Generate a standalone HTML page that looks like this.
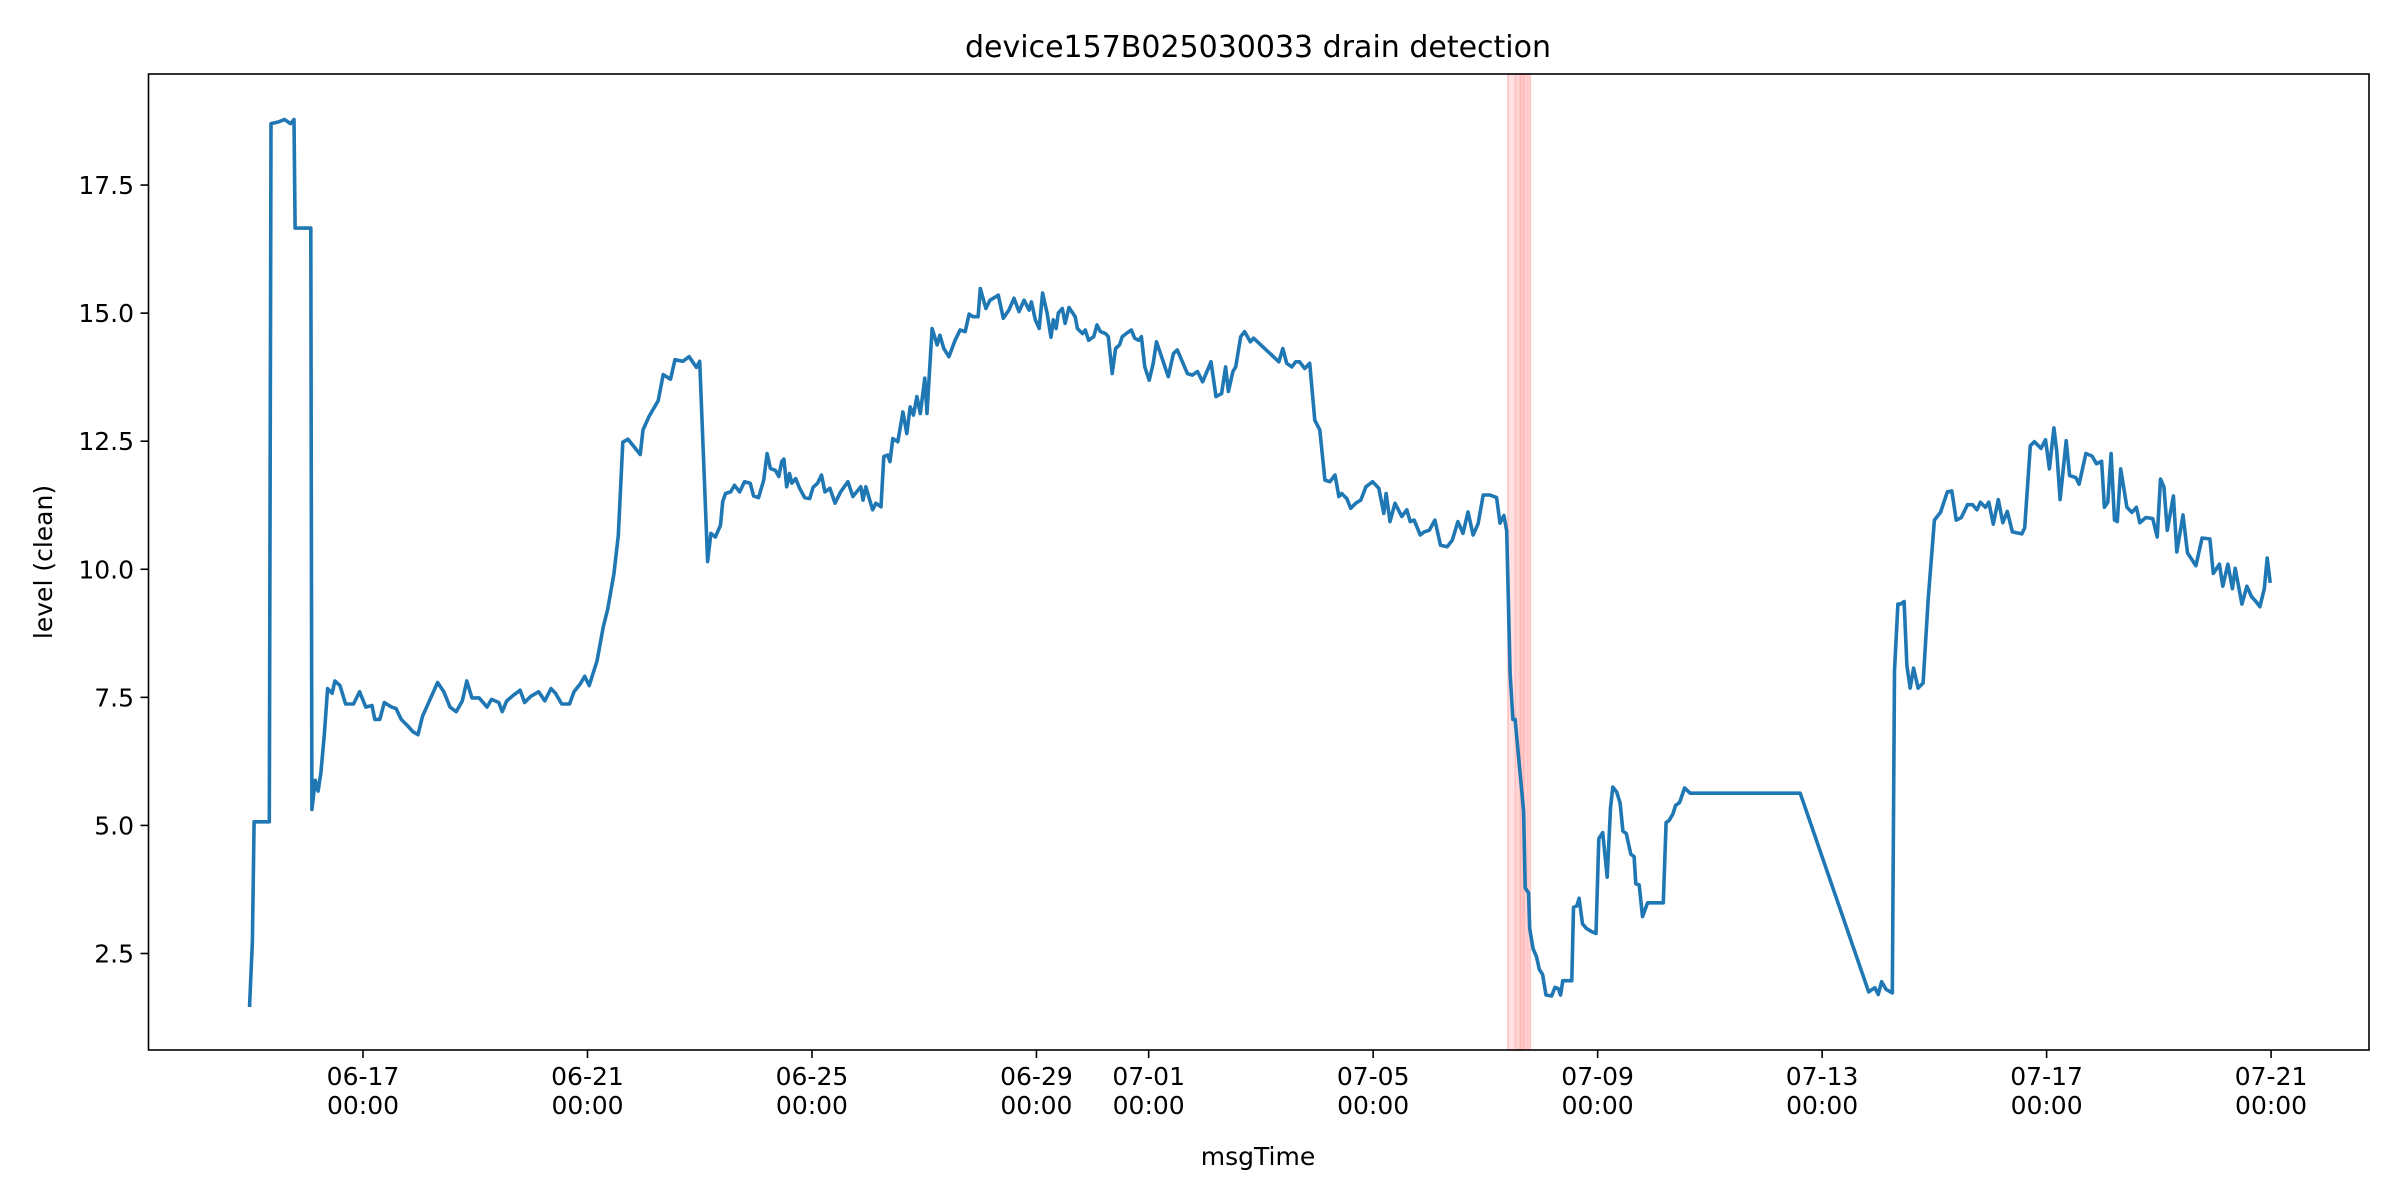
<!DOCTYPE html>
<html><head><meta charset="utf-8"><style>
html,body{margin:0;padding:0;background:#fff;}
svg{display:block;font-family:"DejaVu Sans","Liberation Sans",sans-serif;}
</style></head><body>
<svg id="chart" width="2400" height="1200" viewBox="0 0 2400 1200" xmlns="http://www.w3.org/2000/svg">
<rect x="0" y="0" width="2400" height="1200" fill="#fff"/>
<text x="1258" y="57" font-size="30" text-anchor="middle" fill="#000">device157B025030033 drain detection</text>
<g id="spans"></g>
<g id="series"></g>
<g id="axes"></g>
<text x="1258" y="1165" font-size="25" text-anchor="middle" fill="#000">msgTime</text>
<text transform="translate(52,562) rotate(-90)" font-size="25" text-anchor="middle" fill="#000">level (clean)</text>
</svg>
<script>
// days since 06-17 00:00
const days = [-2.02,-1.97,-1.94,-1.67,-1.64,-1.51,-1.40,-1.29,-1.23,-1.21,-0.93,-0.91,-0.85,-0.80,-0.75,-0.69,-0.63,-0.55,-0.50,-0.41,-0.31,-0.17,-0.06,0.05,0.16,0.21,0.30,0.38,0.51,0.59,0.68,0.79,0.89,0.98,1.06,1.33,1.44,1.55,1.66,1.77,1.85,1.94,2.07,2.21,2.29,2.42,2.48,2.56,2.69,2.80,2.88,2.99,3.13,3.24,3.35,3.43,3.54,3.68,3.76,3.87,3.95,4.03,4.17,4.28,4.36,4.47,4.55,4.63,4.72,4.83,4.94,4.99,5.10,5.26,5.35,5.48,5.56,5.70,5.81,5.94,6.00,
6.14,6.20,6.28,6.37,6.41,6.46,6.55,6.62,6.71,6.80,6.90,6.96,7.05,7.14,7.20,7.26,7.35,7.41,7.46,7.50,7.55,7.60,7.64,7.71,7.78,7.87,7.96,8.02,8.10,8.17,8.23,8.32,8.41,8.51,8.64,8.73,8.87,8.91,8.96,9.08,9.14,9.23,9.28,9.35,9.39,9.44,9.53,9.62,9.69,9.75,9.81,9.87,9.93,10.01,10.05,10.14,10.23,10.28,10.35,10.44,10.55,10.64,10.73,10.80,10.87,10.96,11.00,11.10,11.17,11.23,11.32,11.41,11.51,11.60,11.69,11.78,11.87,11.91,11.98,12.05,12.11,12.19,12.26,12.30,12.35,12.39,12.46,12.51,12.58,12.69,12.73,12.82,12.87,12.93,13.02,13.08,13.14,13.23,13.28,13.35,13.41,13.48,13.53,13.60,13.69,13.75,13.82,13.87,13.93,14.01,14.08,14.14,14.21,14.30,14.35,14.44,14.51,14.60,14.69,14.78,14.87,14.96,15.05,15.11,15.20,15.30,15.37,15.42,15.50,15.55,15.64,15.71,15.81,15.87,16.32,16.39,16.46,16.55,16.62,16.69,16.78,16.87,16.96,17.05,17.14,17.23,17.32,17.39,17.44,17.53,17.60,17.69,17.78,17.87,17.99,18.10,18.19,18.23,18.30,18.39,18.51,18.60,18.66,18.73,18.84,18.91,19.00,19.10,19.20,19.32,19.41,19.51,19.60,19.69,19.78,19.87,19.96,20.08,20.20,
20.26,20.33,20.38,20.44,20.49,20.53,20.68,20.71,20.77,20.79,20.85,20.91,20.96,21.02,21.08,21.18,21.24,21.30,21.34,21.38,21.54,21.57,21.63,21.67,21.73,21.80,21.89,21.97,22.02,
22.09,22.17,22.23,22.27,22.34,22.40,22.45,22.51,22.59,22.65,22.68,22.74,22.80,22.89,23.17,23.22,23.27,23.34,23.39,23.46,23.55,23.65,25.61,26.83,26.89,26.94,27.00,27.06,27.14,27.25,27.29,27.35,27.40,27.46,27.51,27.57,27.63,27.71,27.80,27.89,28.00,28.11,28.23,28.31,28.39,28.48,28.59,28.68,28.76,28.82,28.91,28.97,29.05,29.14,29.22,29.30,29.39,29.56,29.61,29.71,29.78,29.90,29.98,30.05,30.13,30.18,30.24,30.35,30.41,30.52,30.58,30.70,30.81,30.89,30.98,31.03,31.09,31.15,31.21,31.26,31.32,31.43,31.52,31.60,31.66,31.77,31.89,31.97,32.03,32.09,32.15,32.26,32.32,32.43,32.51,32.66,32.77,32.91,32.97,33.08,33.14,33.23,33.31,33.36,33.48,33.57,33.65,33.73,33.80,33.88,33.93,33.98];
const levels = [1.49,2.74,5.07,5.07,18.70,18.73,18.78,18.70,18.78,16.66,16.66,5.31,5.88,5.67,6.03,6.77,7.67,7.58,7.82,7.73,7.37,7.37,7.61,7.31,7.34,7.07,7.07,7.40,7.31,7.28,7.07,6.95,6.83,6.77,7.13,7.79,7.61,7.31,7.22,7.43,7.82,7.49,7.49,7.31,7.46,7.40,7.22,7.43,7.55,7.64,7.40,7.52,7.61,7.43,7.67,7.58,7.37,7.37,7.61,7.76,7.91,7.73,8.21,8.87,9.22,9.91,10.66,12.48,12.54,12.39,12.24,12.72,12.99,13.29,13.80,13.71,14.09,14.06,14.15,13.94,14.06,
10.15,10.70,10.63,10.86,11.32,11.48,11.51,11.64,11.51,11.71,11.68,11.43,11.40,11.74,12.26,11.97,11.93,11.81,12.10,12.15,11.61,11.87,11.68,11.77,11.58,11.40,11.38,11.60,11.68,11.84,11.51,11.58,11.29,11.51,11.71,11.42,11.61,11.35,11.61,11.16,11.29,11.22,12.20,12.23,12.10,12.55,12.49,13.07,12.65,13.17,13.01,13.37,13.04,13.73,13.04,14.70,14.38,14.57,14.31,14.15,14.47,14.67,14.64,14.98,14.93,14.93,15.48,15.09,15.25,15.29,15.35,14.90,15.06,15.29,15.03,15.25,15.06,15.22,14.87,14.70,15.39,15.00,14.53,14.87,14.70,15.00,15.09,14.80,15.11,14.93,14.70,14.60,14.67,14.47,14.54,14.77,14.64,14.60,14.54,13.82,14.31,14.38,14.54,14.60,14.67,14.51,14.47,14.54,13.95,13.69,14.02,14.44,14.21,13.92,13.76,14.21,14.28,14.05,13.82,13.79,13.86,13.66,13.89,14.05,13.37,13.43,13.95,13.47,13.86,13.95,14.54,14.64,14.44,14.51,14.05,14.31,14.02,13.95,14.05,14.05,13.92,14.02,12.91,12.72,11.74,11.71,11.84,11.42,11.48,11.38,11.19,11.29,11.35,11.61,11.71,11.58,11.09,11.48,10.93,11.29,11.03,11.16,10.93,10.96,10.67,10.73,10.76,10.96,10.47,10.44,10.57,10.93,10.70,11.12,10.67,10.89,11.45,11.45,11.40,
10.90,11.05,10.75,7.97,7.07,7.07,5.28,3.78,3.68,2.99,2.59,2.44,2.19,2.09,1.69,1.67,1.84,1.81,1.69,1.97,1.97,3.40,3.43,3.58,3.08,2.99,2.93,2.89,4.74,
4.86,3.99,5.34,5.75,5.65,5.44,4.89,4.84,4.44,4.39,3.86,3.84,3.22,3.49,3.49,5.06,5.09,5.22,5.39,5.45,5.73,5.63,5.63,1.75,1.80,1.83,1.70,1.95,1.80,1.73,8.02,9.32,9.32,9.37,8.12,7.68,8.07,7.68,7.78,9.42,10.96,11.11,11.51,11.53,10.96,11.01,11.26,11.26,11.16,11.31,11.21,11.31,10.88,11.36,10.91,11.13,10.73,10.69,10.81,12.41,12.49,12.36,12.53,11.96,12.76,12.31,11.36,12.51,11.83,11.79,11.66,12.26,12.21,12.06,12.11,11.21,11.31,12.26,10.96,10.93,11.96,11.21,11.11,11.21,10.91,11.01,10.99,10.63,11.76,11.61,10.76,11.43,10.34,11.06,10.32,10.07,10.61,10.59,9.92,10.10,9.67,10.10,9.62,10.02,9.32,9.67,9.47,9.37,9.27,9.62,10.22,9.77];
const spanStarts = [20.40,20.40,20.53,20.62];
const spanEnds = [20.80,20.69,20.80,20.76];
const xTickDays = [0,4,8,12,14,18,22,26,30,34];
const xTickLabels = ["06-17","06-21","06-25","06-29","07-01","07-05","07-09","07-13","07-17","07-21"];
const yTickVals = [2.5,5.0,7.5,10.0,12.5,15.0,17.5];
const yTickLabels = ["2.5","5.0","7.5","10.0","12.5","15.0","17.5"];

const NS = "http://www.w3.org/2000/svg";
const L = 148.5, R = 2369, T = 74, B = 1050;
const X0 = 363, PXD = 56.12;
const Y0 = 953.5, PXV = 51.23;
function xs(d){ return X0 + d * PXD; }
function ys(v){ return Y0 - (v - 2.5) * PXV; }
function mk(tag, attrs){ const e = document.createElementNS(NS, tag); for (const k in attrs) e.setAttribute(k, attrs[k]); return e; }

const spanG = document.getElementById('spans');
for (let i = 0; i < spanStarts.length; i++) {
  const r = mk('rect', {x: xs(spanStarts[i]), y: T, width: xs(spanEnds[i]) - xs(spanStarts[i]), height: B - T, fill: '#ff0000', 'fill-opacity': 0.06, stroke: '#ff0000', 'stroke-opacity': 0.1, 'stroke-width': 1.5});
  
  
  spanG.appendChild(r);
}

const serG = document.getElementById('series');
let d = '';
for (let i = 0; i < days.length; i++) d += (i ? 'L' : 'M') + xs(days[i]).toFixed(1) + ',' + ys(levels[i]).toFixed(1);
const line = mk('path', {d: d, fill: 'none', stroke: '#1f77b4', 'stroke-width': 3.6, 'stroke-linejoin': 'round', 'stroke-linecap': 'square'});


serG.appendChild(line);

const ax = document.getElementById('axes');
const frame = mk('rect', {x: L, y: T, width: R - L, height: B - T, fill: 'none', stroke: '#000', 'stroke-width': 1.6});


ax.appendChild(frame);
for (let i = 0; i < xTickDays.length; i++) {
  const x = xs(xTickDays[i]);
  const t = mk('line', {x1: x, x2: x, y1: B, y2: B + 8, stroke: '#000', 'stroke-width': 1.6});
  
  
  ax.appendChild(t);
  const lb = mk('text', {x: x, y: 1085, 'font-size': 25, 'text-anchor': 'middle', fill: '#000'});
  
  
  const s1 = mk('tspan', {x: x, dy: 0}); s1.textContent = xTickLabels[i];
  const s2 = mk('tspan', {x: x, dy: 29}); s2.textContent = '00:00';
  lb.appendChild(s1); lb.appendChild(s2);
  ax.appendChild(lb);
}
for (let i = 0; i < yTickVals.length; i++) {
  const y = ys(yTickVals[i]);
  const t = mk('line', {x1: L - 8, x2: L, y1: y, y2: y, stroke: '#000', 'stroke-width': 1.6});
  
  
  ax.appendChild(t);
  const lb = mk('text', {x: 134, y: y + 9, 'font-size': 25, 'text-anchor': 'end', fill: '#000'});
  
  
  lb.textContent = yTickLabels[i];
  ax.appendChild(lb);
}
</script>
</body></html>
